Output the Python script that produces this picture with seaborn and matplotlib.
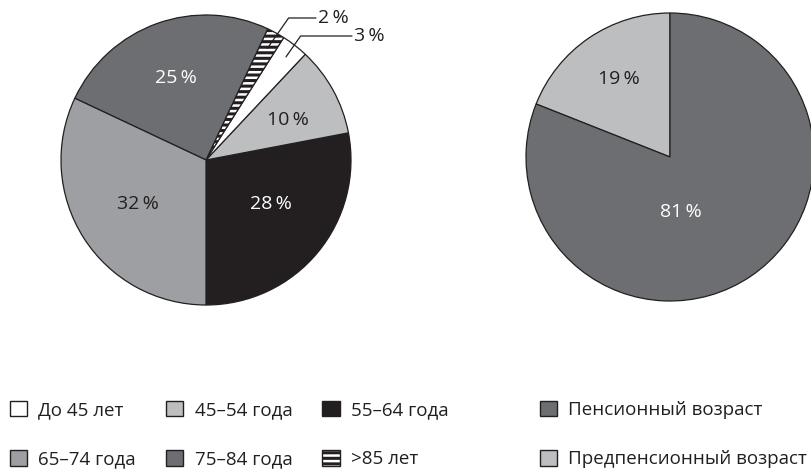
import numpy as np
import matplotlib
matplotlib.use("Agg")
import matplotlib.pyplot as plt
from matplotlib.patches import Patch
import seaborn as sns

sns.set_theme(style="white")
plt.rcParams['font.family'] = ['Open Sans', 'DejaVu Sans']
plt.rcParams['hatch.linewidth'] = 2.2

# ---- data ----
age_categories = ["До 45 лет", "45–54 года", "55–64 года", "65–74 года", "75–84 года", ">85 лет"]
age_values = [3, 10, 28, 32, 25, 2]
age_colors = ["#ffffff", "#bcbec0", "#231f20", "#9d9fa2", "#6d6e71", "#ffffff"]
age_text = ["#231f20", "#231f20", "#ffffff", "#231f20", "#ffffff", "#231f20"]
age_hatches = [None, None, None, None, None, "---"]

ret_categories = ["Пенсионный возраст", "Предпенсионный возраст"]
ret_values = [81, 19]
ret_colors = ["#6d6e71", "#bcbec0"]
ret_text = ["#ffffff", "#231f20"]

TXT = "#231f20"
PFS = 14
LFS = 13.5
W, H = 811, 469
fig = plt.figure(figsize=(W / 100, H / 100), dpi=100)
ax = fig.add_axes([0, 0, 1, 1])


def reset():
    ax.set_xlim(0, W)
    ax.set_ylim(0, H)
    ax.set_aspect("equal")
    ax.axis("off")


# label placement inside the pies: (angle in degrees, fraction of radius)
left_lab = {1: (25.7, 0.63), 2: (-34.5, 0.54), 3: (213, 0.56), 4: (110, 0.6)}
right_lab = {0: (-79, 0.39), 1: (123, 0.65)}

# ---- left pie (counterclockwise from bottom) ----
order_left = [2, 1, 0, 5, 4, 3]
lc, lr = (206, H - 160), 145
wedges, _ = ax.pie([age_values[i] for i in order_left],
                   colors=[age_colors[i] for i in order_left],
                   startangle=-90, counterclock=True, center=lc, radius=lr,
                   wedgeprops=dict(edgecolor=TXT, linewidth=0.9), frame=True)
for w, i in zip(wedges, order_left):
    if age_hatches[i]:
        w.set_hatch(age_hatches[i])
reset()

for w, i in zip(wedges, order_left):
    mid = np.deg2rad((w.theta1 + w.theta2) / 2)
    v = age_values[i]
    if i in left_lab:
        a, f = left_lab[i]
        a = np.deg2rad(a)
        ax.text(lc[0] + f * lr * np.cos(a), lc[1] + f * lr * np.sin(a),
                f"{v}\u2009%", ha="center", va="center", fontsize=PFS, color=age_text[i])
    else:
        r0 = 0.9 if v == 3 else 0.88
        p0 = (lc[0] + r0 * lr * np.cos(mid), lc[1] + r0 * lr * np.sin(mid))
        ky = H - (36 if v == 3 else 18)
        kx = p0[0] + (ky - p0[1]) / np.tan(np.deg2rad(55))
        ex = 352 if v == 3 else 316
        ax.plot([p0[0], kx, ex], [p0[1], ky, ky], color=TXT, lw=0.9)
        ax.text(ex + 2, ky, f"{v}\u2009%", ha="left", va="center", fontsize=PFS, color=TXT)

# ---- right pie ----
order_right = [1, 0]
rc, rr = (670, H - 157), 144
wedges2, _ = ax.pie([ret_values[i] for i in order_right],
                    colors=[ret_colors[i] for i in order_right],
                    startangle=90, counterclock=True, center=rc, radius=rr,
                    wedgeprops=dict(edgecolor=TXT, linewidth=0.9), frame=True)
reset()
for w, i in zip(wedges2, order_right):
    a, f = right_lab[i]
    a = np.deg2rad(a)
    ax.text(rc[0] + f * rr * np.cos(a), rc[1] + f * rr * np.sin(a),
            f"{ret_values[i]}\u2009%", ha="center", va="center", fontsize=PFS, color=ret_text[i])

# ---- legends ----
def handle(color, hatch=None):
    return Patch(facecolor=color, edgecolor=TXT, linewidth=1.0, hatch=hatch)


common = dict(frameon=False, fontsize=LFS, handlelength=0.92, handleheight=0.92,
              handletextpad=0.6, labelspacing=1.65, borderpad=0, borderaxespad=0,
              labelcolor=TXT, loc="center left")
col_order = [0, 3, 1, 4, 2, 5]
h1 = [handle(age_colors[i], age_hatches[i]) for i in col_order]
l1 = [age_categories[i] for i in col_order]
fig.legend(h1, l1, ncol=3, columnspacing=1.6,
           bbox_to_anchor=(10 / W, 1 - 434.5 / H), **common)
h2 = [handle(c) for c in ret_colors]
fig.legend(h2, ret_categories, ncol=1,
           bbox_to_anchor=(540 / W, 1 - 434.5 / H), **common)

fig.savefig("out.png", dpi=100)
